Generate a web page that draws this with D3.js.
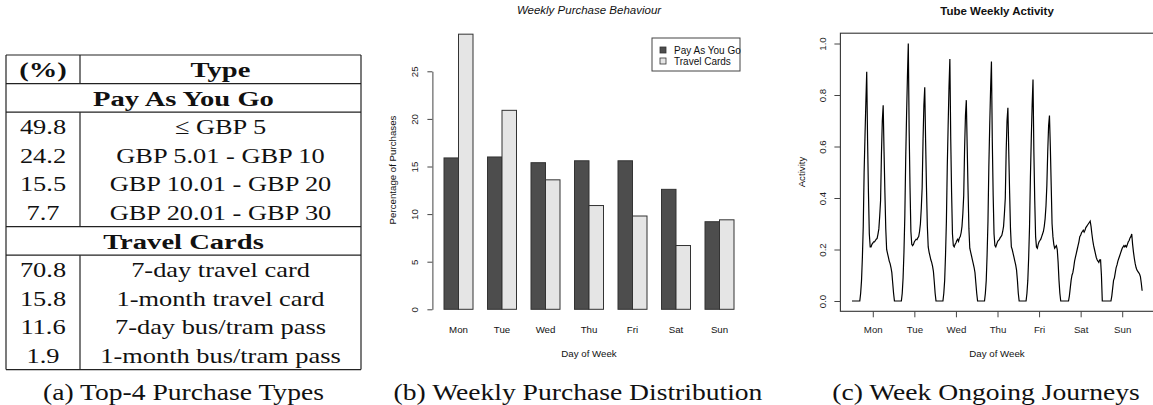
<!DOCTYPE html>
<html>
<head>
<meta charset="utf-8">
<script src="https://cdn.jsdelivr.net/npm/d3@7"></script>
<style>
  body { margin: 0; background: #fff; }
</style>
</head>
<body>
<svg id="fig" width="1153" height="405"></svg>
<script>
// ---------- data ----------
// (a) top-4 purchase types
const tableHeader = ["(%)", "Type"];
const paygShare = [49.8, 24.2, 15.5, 7.7];
const paygTypes = ["≤ GBP 5", "GBP 5.01 - GBP 10", "GBP 10.01 - GBP 20", "GBP 20.01 - GBP 30"];
const cardShare = [70.8, 15.8, 11.6, 1.9];
const cardTypes = ["7-day travel card", "1-month travel card", "7-day bus/tram pass", "1-month bus/tram pass"];

// (b) weekly purchase distribution
const days = ["Mon", "Tue", "Wed", "Thu", "Fri", "Sat", "Sun"];
const paygByDay = [15.9, 16.0, 15.4, 15.6, 15.6, 12.6, 9.2];
const cardsByDay = [28.9, 20.9, 13.6, 10.9, 9.8, 6.7, 9.4];
const barTicks = [0, 5, 10, 15, 20, 25];
const legendLabels = ["Pay As You Go", "Travel Cards"];

// (c) tube activity, one value every half hour from 00:00 to 23:30
const monActivity = [0, 0, 0, 0, 0, 0, 0, 0, 0, 0,
  0.03, 0.08, 0.17, 0.29, 0.5, 0.64, 0.77, 0.89,
  0.62, 0.42, 0.26, 0.21, 0.21, 0.22, 0.225, 0.23, 0.23, 0.235, 0.24, 0.243,
  0.26, 0.28, 0.33, 0.39, 0.57, 0.7,
  0.76, 0.58, 0.42, 0.28, 0.2, 0.185, 0.17, 0.155, 0.145, 0.13, 0.11, 0.07];
const tueActivity = [0.03, 0, 0, 0, 0, 0, 0, 0, 0, 0,
  0.03, 0.09, 0.19, 0.33, 0.55, 0.72, 0.87, 1.0,
  0.66, 0.44, 0.27, 0.22, 0.215, 0.22, 0.23, 0.235, 0.24, 0.238, 0.245, 0.25,
  0.27, 0.3, 0.36, 0.44, 0.62, 0.76,
  0.83, 0.62, 0.44, 0.29, 0.21, 0.19, 0.175, 0.16, 0.15, 0.135, 0.115, 0.075];
const wedActivity = [0.03, 0, 0, 0, 0, 0, 0, 0, 0, 0,
  0.03, 0.08, 0.18, 0.31, 0.52, 0.68, 0.83, 0.94,
  0.63, 0.42, 0.26, 0.215, 0.21, 0.22, 0.225, 0.235, 0.24, 0.232, 0.245, 0.25,
  0.265, 0.29, 0.34, 0.41, 0.59, 0.72,
  0.78, 0.6, 0.43, 0.28, 0.205, 0.19, 0.175, 0.16, 0.145, 0.13, 0.11, 0.07];
const thuActivity = [0.03, 0, 0, 0, 0, 0, 0, 0, 0, 0,
  0.03, 0.08, 0.18, 0.31, 0.52, 0.68, 0.82, 0.93,
  0.62, 0.41, 0.26, 0.215, 0.21, 0.22, 0.23, 0.235, 0.238, 0.245, 0.25, 0.255,
  0.27, 0.29, 0.34, 0.4, 0.58, 0.7,
  0.75, 0.58, 0.42, 0.28, 0.21, 0.2, 0.185, 0.17, 0.155, 0.14, 0.12, 0.08];
const friActivity = [0.03, 0, 0, 0, 0, 0, 0, 0, 0, 0,
  0.03, 0.08, 0.17, 0.29, 0.48, 0.63, 0.76, 0.86,
  0.58, 0.39, 0.25, 0.21, 0.205, 0.22, 0.23, 0.235, 0.24, 0.25, 0.26, 0.27,
  0.29, 0.32, 0.37, 0.45, 0.58, 0.68,
  0.72, 0.6, 0.45, 0.3, 0.25, 0.22, 0.205, 0.21, 0.215, 0.2, 0.15, 0.08];
const satActivity = [0.03, 0, 0, 0, 0, 0, 0, 0, 0, 0,
  0, 0.02, 0.05, 0.08, 0.1, 0.11, 0.13, 0.155,
  0.17, 0.185, 0.2, 0.215, 0.23, 0.25, 0.255, 0.265, 0.27, 0.275, 0.268, 0.275,
  0.285, 0.29, 0.295, 0.3, 0.305, 0.31,
  0.29, 0.26, 0.235, 0.215, 0.2, 0.185, 0.17, 0.16, 0.155, 0.15, 0.16, 0.16];
const sunActivity = [0.1, 0, 0, 0, 0, 0, 0, 0, 0, 0,
  0, 0, 0.02, 0.05, 0.08, 0.09, 0.11, 0.13,
  0.14, 0.155, 0.165, 0.175, 0.185, 0.195, 0.205, 0.21, 0.215, 0.21, 0.215, 0.21,
  0.22, 0.23, 0.235, 0.245, 0.25, 0.26,
  0.22, 0.19, 0.165, 0.145, 0.13, 0.12, 0.115, 0.11, 0.105, 0.095, 0.07, 0.04];
const activityTicks = [0, 0.2, 0.4, 0.6, 0.8, 1.0];

const captions = ["(a) Top-4 Purchase Types", "(b) Weekly Purchase Distribution", "(c) Week Ongoing Journeys"];

// ---------- setup ----------
const svg = d3.select("#fig");
const SANS = "'Liberation Sans', Arial, Helvetica, sans-serif";
const SERIF = "'Liberation Serif', 'Times New Roman', serif";
const SX = 1.2;        // the LaTeX text is wider than Liberation Serif
const SX_BOLD = 1.3;   // bold extended is wider still
const rFont = 9.7;     // R base text size

// LaTeX-like text, stretched horizontally a little
function texText(g, x, y, str, size, bold) {
  return g.append("text")
    .attr("transform", `translate(${x},${y}) scale(${bold ? SX_BOLD : SX},1)`)
    .attr("text-anchor", "middle")
    .attr("dy", "0.35em")
    .attr("fill", "#111")
    .style("font-family", SERIF)
    .style("font-size", size + "px")
    .style("font-weight", bold ? "bold" : "normal")
    .text(str);
}

// R-like text
function rText(g, x, y, str, opts = {}) {
  const t = g.append("text")
    .attr("transform", `translate(${x},${y})` + (opts.rotate ? " rotate(-90)" : ""))
    .attr("text-anchor", "middle")
    .attr("dy", "0.35em")
    .attr("fill", "#111")
    .style("font-family", SANS)
    .style("font-size", (opts.size || rFont) + "px")
    .text(str);
  if (opts.weight) t.style("font-weight", opts.weight);
  if (opts.italic) t.style("font-style", "italic");
  return t;
}

// ---------- (a) table ----------
const table = svg.append("g");
const tLeft = 6, tMid = 80, tRight = 361;
const colOne = (tLeft + tMid) / 2, colTwo = (tMid + tRight) / 2;
const rowY = d3.scaleLinear().domain([0, 11]).range([55, 369.6]);

const tableRows = [
  { kind: "head", share: tableHeader[0], type: tableHeader[1] },
  { kind: "section", label: "Pay As You Go" },
  ...paygShare.map((v, i) => ({ kind: "row", share: v.toFixed(1), type: paygTypes[i] })),
  { kind: "section", label: "Travel Cards" },
  ...cardShare.map((v, i) => ({ kind: "row", share: v.toFixed(1), type: cardTypes[i] }))
];

// horizontal rules: above the header, above/below each section title, at the bottom
const rules = [0, 1, 2, 6, 7, 11];
table.selectAll("line.h")
  .data(rules)
  .join("line")
  .attr("class", "h")
  .attr("x1", tLeft).attr("x2", tRight)
  .attr("y1", d => rowY(d)).attr("y2", d => rowY(d))
  .attr("stroke", "#222").attr("stroke-width", 1.2);

// outer sides and the column divider (not through the section titles)
const verticals = [
  { x: tLeft, a: 0, b: 11 }, { x: tRight, a: 0, b: 11 },
  { x: tMid, a: 0, b: 1 }, { x: tMid, a: 2, b: 6 }, { x: tMid, a: 7, b: 11 }
];
table.selectAll("line.v")
  .data(verticals)
  .join("line")
  .attr("class", "v")
  .attr("x1", d => d.x).attr("x2", d => d.x)
  .attr("y1", d => rowY(d.a)).attr("y2", d => rowY(d.b))
  .attr("stroke", "#222").attr("stroke-width", 1.2);

tableRows.forEach((r, i) => {
  const yc = rowY(i + 0.5);
  if (r.kind === "section") {
    texText(table, (tLeft + tRight) / 2, yc, r.label, 22, true);
  } else {
    texText(table, colOne, yc, r.share, 22, r.kind === "head");
    texText(table, colTwo, yc, r.type, 22, r.kind === "head");
  }
});

// ---------- (b) weekly purchase behaviour ----------
const bars = svg.append("g");
const bx = d3.scaleLinear().domain([1, 21]).range([444, 734]);   // bar units, R barplot style
const by = d3.scaleLinear().domain([0, 25]).range([309.3, 71.3]);
const barW = bx(2) - bx(1);
const barColors = ["#4d4d4d", "#e5e5e5"];

const barData = days.flatMap((d, i) => [
  { day: d, s: 0, v: paygByDay[i], u: 1 + 3 * i },
  { day: d, s: 1, v: cardsByDay[i], u: 2 + 3 * i }
]);

bars.selectAll("rect.bar")
  .data(barData)
  .join("rect")
  .attr("class", "bar")
  .attr("x", d => bx(d.u))
  .attr("y", d => by(d.v))
  .attr("width", barW)
  .attr("height", d => by(0) - by(d.v))
  .attr("fill", d => barColors[d.s])
  .attr("stroke", "#333")
  .attr("stroke-width", 1);

// y axis
const byAxis = bars.append("g")
  .attr("transform", `translate(${bx(0.2)},0)`)
  .call(d3.axisLeft(by).tickValues(barTicks).tickSize(5).tickSizeOuter(0));
byAxis.select(".domain").attr("stroke", "#444");
byAxis.selectAll(".tick line").attr("stroke", "#444");
byAxis.selectAll(".tick text")
  .attr("transform", "rotate(-90)")
  .attr("x", 0).attr("y", -14).attr("dy", 0)
  .attr("text-anchor", "middle")
  .attr("fill", "#222")
  .style("font-family", SANS).style("font-size", rFont + "px");

// day names under the groups
days.forEach((d, i) => rText(bars, bx(2 + 3 * i), 330, d));

rText(bars, 589, 354, "Day of Week");
rText(bars, 393, 170, "Percentage of Purchases", { rotate: true });
rText(bars, 589, 10, "Weekly Purchase Behaviour", { size: 11.5, italic: true });

// legend
const legend = bars.append("g");
legend.append("rect")
  .attr("x", 652).attr("y", 38).attr("width", 88).attr("height", 33)
  .attr("fill", "none").attr("stroke", "#444");
legendLabels.forEach((lab, i) => {
  legend.append("rect")
    .attr("x", 660).attr("y", 47 + i * 11).attr("width", 6).attr("height", 6)
    .attr("fill", barColors[i]).attr("stroke", "#333").attr("stroke-width", 0.8);
  legend.append("text")
    .attr("x", 674).attr("y", 50 + i * 11).attr("dy", "0.35em")
    .attr("fill", "#111")
    .style("font-family", SANS).style("font-size", "10px")
    .text(lab);
});

// ---------- (c) tube weekly activity ----------
const act = svg.append("g");
const cx = d3.scaleLinear().domain([0, 168]).range([852, 1143]);  // hours since Monday 00:00
const cy = d3.scaleLinear().domain([0, 1]).range([301, 43.5]);

const weekActivity = [monActivity, tueActivity, wedActivity, thuActivity, friActivity, satActivity, sunActivity];
const activityPoints = weekActivity.flatMap((vals, k) => vals.map((v, i) => ({ h: k * 24 + i * 0.5, v })));

// plot box (R extends the data range by 4%)
act.append("rect")
  .attr("x", cx(-6.7)).attr("y", cy(1.04))
  .attr("width", cx(174.2) - cx(-6.7)).attr("height", cy(-0.04) - cy(1.04))
  .attr("fill", "none").attr("stroke", "#333").attr("stroke-width", 1.1);

act.append("path")
  .datum(activityPoints)
  .attr("fill", "none")
  .attr("stroke", "#000")
  .attr("stroke-width", 1.2)
  .attr("d", d3.line().x(d => cx(d.h)).y(d => cy(d.v)));

const cyAxis = act.append("g")
  .attr("transform", `translate(${cx(-6.7)},0)`)
  .call(d3.axisLeft(cy).tickValues(activityTicks).tickFormat(d3.format(".1f")).tickSize(6).tickSizeOuter(0));
cyAxis.select(".domain").remove();
cyAxis.selectAll(".tick line").attr("stroke", "#444");
cyAxis.selectAll(".tick text")
  .attr("transform", "rotate(-90)")
  .attr("x", 0).attr("y", -14).attr("dy", 0)
  .attr("text-anchor", "middle")
  .attr("fill", "#222")
  .style("font-family", SANS).style("font-size", rFont + "px");

const cxAxis = act.append("g")
  .attr("transform", `translate(0,${cy(-0.04)})`)
  .call(d3.axisBottom(cx).tickValues(days.map((d, i) => 12 + 24 * i)).tickFormat((d, i) => days[i]).tickSize(6).tickPadding(9));
cxAxis.select(".domain").remove();
cxAxis.selectAll(".tick line").attr("stroke", "#444");
cxAxis.selectAll(".tick text")
  .attr("fill", "#222")
  .style("font-family", SANS).style("font-size", rFont + "px");

rText(act, 997, 354, "Day of Week");
rText(act, 802, 172, "Activity", { rotate: true });
rText(act, 997, 11, "Tube Weekly Activity", { size: 11.5, weight: "bold" });

// ---------- captions ----------
const capX = [183.5, 578, 986];
captions.forEach((c, i) => texText(svg, capX[i], 392, c, 23, false));
</script>
</body>
</html>
